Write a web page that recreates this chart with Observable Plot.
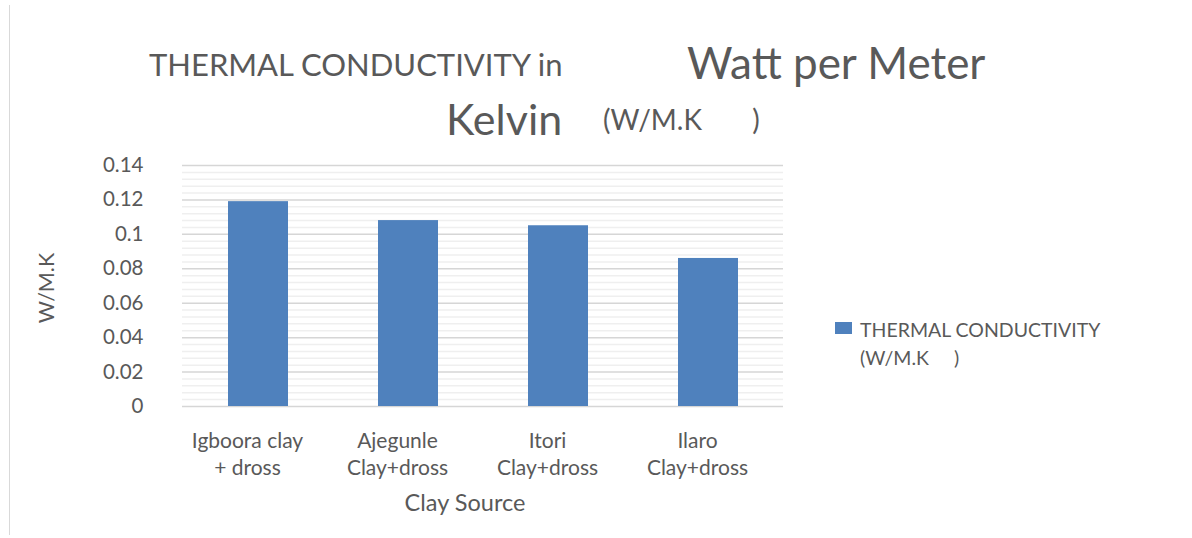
<!DOCTYPE html>
<html>
<head>
<meta charset="utf-8">
<script src="https://cdn.jsdelivr.net/npm/d3@7"></script>
<script src="https://cdn.jsdelivr.net/npm/@observablehq/plot@0.6"></script>
<style>
  html, body { margin: 0; padding: 0; background: #fff; }
  #wrap { position: relative; width: 1192px; height: 538px; overflow: hidden; font-family: Lato, "Open Sans", sans-serif; color: #595959; }
  #border { position: absolute; left: 9px; top: 5px; width: 1px; height: 530px; background: #d9d9d9; }
  .t { position: absolute; white-space: pre; line-height: 1; }
  .sw { position: absolute; left: 835px; top: 322px; width: 17px; height: 12px; background: #4f81bd; }
  .lg { position: absolute; left: 860px; white-space: pre; font-size: 19.5px; line-height: 1; }
  #chart { position: absolute; left: 0; top: 0; }
</style>
</head>
<body>
<div id="wrap">
  <div id="border"></div>
  <div id="chart"></div>
  <div class="t" style="left:149px; top:49px; font-size:31px;">THERMAL CONDUCTIVITY in</div>
  <div class="t" style="left:687px; top:40px; font-size:44px;">Watt per Meter</div>
  <div class="t" style="left:446px; top:97px; font-size:43px;">Kelvin</div>
  <div class="t" style="left:603px; top:105px; font-size:28px;">(W/M.K       )</div>
  <div class="sw"></div>
  <div class="lg" style="top:320px;">THERMAL CONDUCTIVITY</div>
  <div class="lg" style="top:348px;">(W/M.K     )</div>
</div>
<script>
const categories = ["Igboora clay\n+ dross", "Ajegunle\nClay+dross", "Itori\nClay+dross", "Ilaro\nClay+dross"];
const values = [0.119, 0.108, 0.105, 0.086];
const yTicks = [0, 0.02, 0.04, 0.06, 0.08, 0.1, 0.12, 0.14];
const yMinorTicks = d3.range(0, 36).map(i => +(i * 0.004).toFixed(3)).filter(v => !yTicks.some(t => Math.abs(t - v) < 1e-9));

const data = categories.map((c, i) => ({category: c, value: values[i]}));

const chart = Plot.plot({
  width: 1192,
  height: 538,
  marginLeft: 182,
  marginRight: 409,
  marginTop: 165,
  marginBottom: 132,
  style: {fontFamily: "Lato, 'Open Sans', sans-serif", fontSize: "20px", color: "#595959", background: "transparent"},
  x: {domain: categories, paddingInner: 0.6, paddingOuter: 0.3, label: null},
  y: {domain: [0, 0.14], label: null},
  marks: [
    Plot.ruleY(yMinorTicks, {stroke: "#efefef", strokeWidth: 1.5}),
    Plot.ruleY(yTicks, {stroke: "#d6d6d6", strokeWidth: 1.5}),
    Plot.barY(data, {x: "category", y: "value", fill: "#4f81bd"}),
    Plot.axisY(yTicks, {tickSize: 0, tickPadding: 39, tickFormat: d => String(+d.toFixed(2)), fill: "#595959", fontSize: 20.5, label: null}),
    Plot.axisX({tickSize: 0, tickPadding: 22, fill: "#595959", fontSize: 21, lineHeight: 1.3, dx: -11, label: null}),
    Plot.text(["W/M.K"], {frameAnchor: "left", textAnchor: "middle", dx: -135, dy: 2, rotate: -90, fontSize: 21.5, fill: "#595959"}),
    Plot.text(["Clay Source"], {frameAnchor: "bottom", dy: 104, fontSize: 23.5, fill: "#595959", dx: -18})
  ]
});
document.getElementById("chart").appendChild(chart);
</script>
</body>
</html>
